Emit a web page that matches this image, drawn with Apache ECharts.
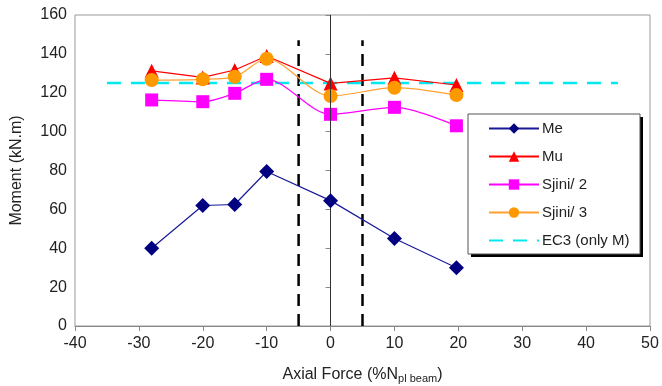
<!DOCTYPE html>
<html>
<head>
<meta charset="utf-8">
<script src="https://cdn.jsdelivr.net/npm/echarts@6/dist/echarts.min.js"></script>
<style>
  html, body { margin: 0; padding: 0; background: #fff; }
  #chart { width: 662px; height: 386px; }
</style>
</head>
<body>
<div id="chart"></div>
<script>
// axial force (% N_pl beam) for each test
const axialForce = [-28, -20, -15, -10, 0, 10, 19.7];
const me = [40, 62, 62.5, 79.5, 64.5, 45, 30];
const mu = [131.3, 127.9, 131.7, 138.9, 124.8, 127.7, 124];
const sjini2 = [116.3, 115.4, 119.7, 126.9, 108.9, 112.5, 103];
const sjini3 = [126.5, 126.9, 128.2, 137.5, 118.3, 122.6, 118.8];
// EC3 (only M) horizontal level
const ec3X = [-35, 45];
const ec3Value = 125;
// dashed limits
const limitX = [-5, 5];
const limitTop = 147;

const pairs = (xs, ys) => xs.map((x, i) => [x, ys[i]]);
const font = 'Liberation Sans, Arial, sans-serif';

const chart = echarts.init(document.getElementById('chart'));

const limitSeries = limitX.map((x) => ({
  name: 'limit' + x,
  type: 'line',
  data: [[x, 0], [x, limitTop]],
  showSymbol: false,
  silent: true,
  lineStyle: { color: '#000', width: 2.5, type: [12, 8] },
  z: 1,
}));

// legend box with a hard black shadow
const box = { x: 468, y: 114, w: 172, h: 140 };

chart.setOption({
  animation: false,
  textStyle: { fontFamily: font },
  grid: {
    left: 75,
    right: 12,
    top: 15,
    bottom: 60,
    outerBoundsMode: 'none',
    containLabel: false,
    show: true,
    borderColor: '#999',
    borderWidth: 1,
  },
  graphic: [
    {
      type: 'rect',
      z: 10,
      shape: { x: box.x + 3, y: box.y + 3, width: box.w, height: box.h },
      style: { fill: '#000' },
    },
    {
      type: 'rect',
      z: 11,
      shape: { x: box.x, y: box.y, width: box.w, height: box.h },
      style: { fill: '#fff', stroke: '#555', lineWidth: 1 },
    },
  ],
  legend: {
    orient: 'vertical',
    left: box.x,
    top: box.y,
    z: 20,
    padding: [7, 10, 8, 20],
    itemWidth: 50,
    itemHeight: 13,
    itemGap: 13,
    textStyle: { fontSize: 15, color: '#222', fontFamily: font, padding: [0, 0, 0, -2] },
    data: [
      'Me',
      'Mu',
      'Sjini/ 2',
      'Sjini/ 3',
      { name: 'EC3 (only M)', itemStyle: { opacity: 0 } },
    ],
  },
  xAxis: {
    type: 'value',
    min: -40,
    max: 50,
    interval: 10,
    splitLine: { show: false },
    axisLine: { onZero: false, lineStyle: { color: '#888' } },
    axisTick: { show: true, inside: false, length: 5, lineStyle: { color: '#888' } },
    axisLabel: { fontSize: 16, color: '#222', margin: 10, fontFamily: font },
    name: 'Axial Force (%N{sub|pl beam})',
    nameLocation: 'middle',
    nameGap: 39,
    nameTextStyle: {
      fontSize: 16,
      color: '#222',
      fontFamily: font,
      rich: { sub: { fontSize: 11, verticalAlign: 'bottom', padding: [8, 0, 0, 0], color: '#222', fontFamily: font } },
    },
  },
  yAxis: {
    type: 'value',
    min: 0,
    max: 160,
    interval: 20,
    splitLine: { show: false },
    axisLine: { show: true, lineStyle: { color: '#888' } },
    axisTick: { show: true, inside: false, length: 5, lineStyle: { color: '#888' } },
    axisLabel: { fontSize: 16, color: '#222', margin: 8, fontFamily: font },
    name: 'Moment (kN.m)',
    nameLocation: 'middle',
    nameGap: 50,
    nameTextStyle: { fontSize: 16, color: '#222', fontFamily: font },
  },
  series: [
    ...limitSeries,
    {
      name: 'zero',
      type: 'line',
      data: [],
      silent: true,
      markLine: {
        silent: true,
        symbol: 'none',
        label: { show: false },
        lineStyle: { color: '#333', width: 1, type: 'solid' },
        data: [{ xAxis: 0 }],
      },
    },
    {
      name: 'EC3 (only M)',
      type: 'line',
      data: ec3X.map((x) => [x, ec3Value]),
      showSymbol: false,
      symbol: 'none',
      itemStyle: { color: '#00E8F0' },
      lineStyle: { color: '#00E8F0', width: 2.5, type: [14, 10] },
      z: 2,
    },
    {
      name: 'Sjini/ 2',
      type: 'line',
      data: pairs(axialForce, sjini2),
      smooth: 0.3,
      symbol: 'rect',
      symbolSize: 13,
      itemStyle: { color: '#FF00FF' },
      lineStyle: { color: '#FF00FF', width: 1.2 },
      z: 3,
    },
    {
      name: 'Sjini/ 3',
      type: 'line',
      data: pairs(axialForce, sjini3),
      smooth: 0.3,
      symbol: 'circle',
      symbolSize: 14,
      itemStyle: { color: '#FF9900' },
      lineStyle: { color: '#FFA030', width: 1.2 },
      z: 4,
    },
    {
      name: 'Mu',
      type: 'line',
      data: pairs(axialForce, mu),
      symbol: 'triangle',
      symbolSize: 14,
      itemStyle: { color: '#FF0000' },
      lineStyle: { color: '#FF0000', width: 1.2 },
      z: 3,
    },
    {
      name: 'Me',
      type: 'line',
      data: pairs(axialForce, me),
      symbol: 'diamond',
      symbolSize: 15,
      itemStyle: { color: '#000080' },
      lineStyle: { color: '#1a1a99', width: 1.2 },
      z: 5,
    },
  ],
});
</script>
</body>
</html>
